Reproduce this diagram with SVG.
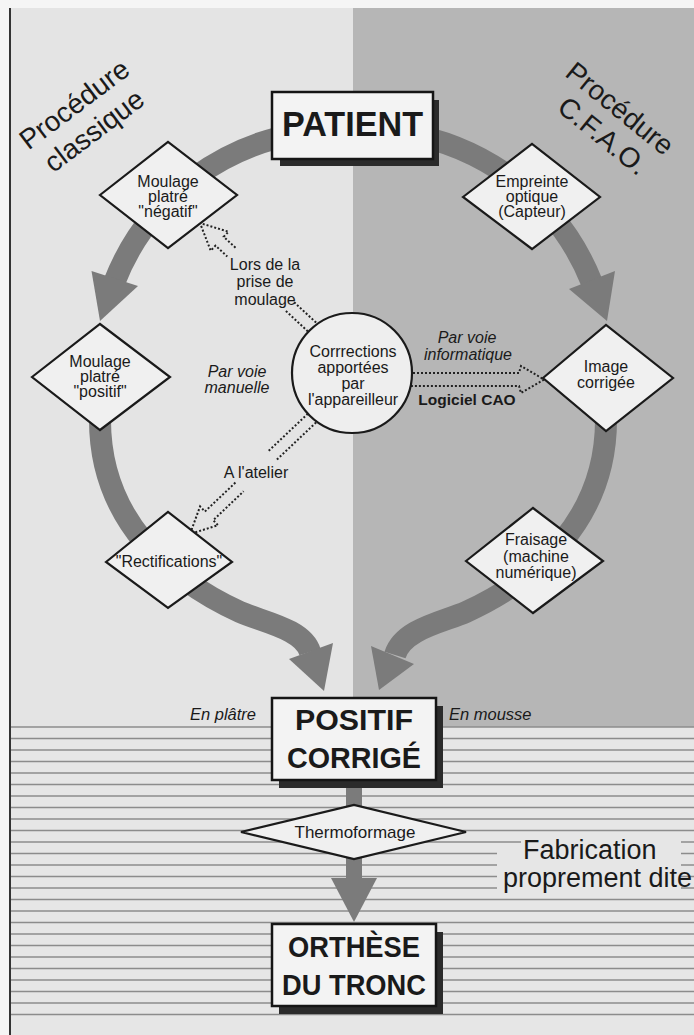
<svg xmlns="http://www.w3.org/2000/svg" width="694" height="1035" viewBox="0 0 694 1035">
<defs>
<style>
text { font-family: "Liberation Sans", Arial, sans-serif; fill: #1a1a1a; }
.lbl { font-size: 16px; text-anchor: middle; }
.it { font-style: italic; }
.b { font-weight: bold; }
.big { font-size: 29px; font-weight: bold; text-anchor: middle; }
.proc { font-size: 28px; text-anchor: middle; }
.box { fill: #f3f3f3; stroke: #151515; stroke-width: 2.5; }
.shadow { fill: #2b2b2b; }
.dia { fill: #f0f0f0; stroke: #1a1a1a; stroke-width: 2.2; }
.band { fill: none; stroke: #7b7b7b; stroke-width: 22; }
.head { fill: #7b7b7b; }
.dot { fill: none; stroke: #222; stroke-width: 2; stroke-dasharray: 2 2; }
.stripe { stroke: #8c8c8c; stroke-width: 1.4; }
</style>
</defs>

<g id="background">
<rect width="694" height="1035" fill="#f5f5f5"/>
<rect x="10" y="8" width="343" height="719" fill="#e4e4e4"/>
<rect x="353" y="8" width="341" height="719" fill="#b6b6b6"/>
<rect x="10" y="727" width="684" height="308" fill="#e6e6e6"/>
<g id="stripes" class="stripe">
<line x1="10" y1="727" x2="694" y2="727"/>
<line x1="10" y1="738.5" x2="694" y2="738.5"/>
<line x1="10" y1="750" x2="694" y2="750"/>
<line x1="10" y1="761.5" x2="694" y2="761.5"/>
<line x1="10" y1="773" x2="694" y2="773"/>
<line x1="10" y1="784.5" x2="694" y2="784.5"/>
<line x1="10" y1="796" x2="694" y2="796"/>
<line x1="10" y1="807.5" x2="694" y2="807.5"/>
<line x1="10" y1="819" x2="694" y2="819"/>
<line x1="10" y1="830.5" x2="694" y2="830.5"/>
<line x1="10" y1="842" x2="694" y2="842"/>
<line x1="10" y1="853.5" x2="694" y2="853.5"/>
<line x1="10" y1="865" x2="694" y2="865"/>
<line x1="10" y1="876.5" x2="694" y2="876.5"/>
<line x1="10" y1="888" x2="694" y2="888"/>
<line x1="10" y1="899.5" x2="694" y2="899.5"/>
<line x1="10" y1="911" x2="694" y2="911"/>
<line x1="10" y1="922.5" x2="694" y2="922.5"/>
<line x1="10" y1="934" x2="694" y2="934"/>
<line x1="10" y1="945.5" x2="694" y2="945.5"/>
<line x1="10" y1="957" x2="694" y2="957"/>
<line x1="10" y1="968.5" x2="694" y2="968.5"/>
<line x1="10" y1="980" x2="694" y2="980"/>
<line x1="10" y1="991.5" x2="694" y2="991.5"/>
<line x1="10" y1="1003" x2="694" y2="1003"/>
<line x1="10" y1="1014.5" x2="694" y2="1014.5"/>
</g>
<path d="M521,837 H681 V895 H497 V849 H521 Z" fill="#e6e6e6"/>
<line x1="10" y1="8" x2="10" y2="1035" stroke="#333" stroke-width="2"/>
</g>

<g id="titles">
<g transform="translate(80,112) rotate(-37)">
<text class="proc" x="0" y="0">Procédure</text>
<text class="proc" x="0" y="33">classique</text>
</g>
<g transform="translate(614,116) rotate(39)">
<text class="proc" x="0" y="0">Procédure</text>
<text class="proc" x="4" y="32">C.F.A.O.</text>
</g>
<text x="523" y="859" style="font-size:27px">Fabrication</text>
<text x="503" y="887" style="font-size:27px">proprement dite</text>
</g>

<g id="connectors">
<path class="band" d="M300,133 C230,145 150,190 114,283"/>
<polygon class="head" points="91.5,271 100,321 138,286"/>
<path class="band" d="M405,133 C475,145 555,190 592,283"/>
<polygon class="head" points="569,289 607,321 615,271"/>
<path class="band" d="M100,420 C100,520 170,580 240,612 C263,622 303,629 310,652"/>
<polygon class="head" points="289,659 324,691 333,643"/>
<path class="band" d="M606,420 C606,520 536,580 466,612 C443,622 403,629 395,655"/>
<polygon class="head" points="371,646 379,690 414,664"/>
<rect x="346" y="784" width="16" height="24" fill="#7b7b7b"/>
<rect x="346" y="855" width="16" height="27" fill="#7b7b7b"/>
<polygon class="head" points="331,878 354,922 377,878"/>
<path class="dot" d="M316.1,322.6 L294.1,302.2 M307.9,331.4 L285.9,311"/>
<path class="dot" d="M235.5,247.7 L223.7,236.8 L228.5,231.7 L200,223 L210.7,250.7 L215.5,245.6 L227.3,256.5"/>
<path class="dot" d="M307.9,413.7 L268,451.5 M316.1,422.4 L276.2,460.2"/>
<path class="dot" d="M235.4,482.6 L204.9,511.5 L200.1,506.4 L190,534 L218,525.2 L213.2,520.2 L243.6,491.3"/>
<path class="dot" d="M413,373 L519,373 L521,366 L544,379.5 L521,393 L519,386 L411,386"/>
</g>

<g id="edge-labels">
<text class="lbl" x="265" y="270">Lors de la</text>
<text class="lbl" x="265" y="287">prise de</text>
<text class="lbl" x="265" y="305">moulage</text>
<text class="lbl it" x="237" y="377">Par voie</text>
<text class="lbl it" x="237" y="393">manuelle</text>
<text class="lbl" x="256" y="478">A l'atelier</text>
<text class="lbl it" x="467" y="343">Par voie</text>
<text class="lbl it" x="468" y="360">informatique</text>
<text class="lbl b" x="467" y="405" style="font-size:15.5px">Logiciel CAO</text>
<text class="it" x="256" y="720" text-anchor="end" style="font-size:16.5px">En plâtre</text>
<text class="it" x="449" y="720" style="font-size:16.5px">En mousse</text>
</g>

<g id="patient">
<rect class="shadow" x="280" y="100" width="159" height="66"/>
<rect class="box" x="272" y="92" width="161" height="67"/>
<text x="352.5" y="136" text-anchor="middle" font-weight="bold" font-size="35" textLength="141" lengthAdjust="spacingAndGlyphs">PATIENT</text>
</g>

<g id="moulage-negatif">
<polygon class="dia" points="100,195 168,142 237,195 168,248"/>
<text class="lbl" x="168" y="187">Moulage</text>
<text class="lbl" x="168" y="202">platré</text>
<text class="lbl" x="168" y="217">"négatif"</text>
</g>

<g id="empreinte">
<polygon class="dia" points="463,197 532,144 600,197 532,249"/>
<text class="lbl" x="532" y="187">Empreinte</text>
<text class="lbl" x="532" y="202">optique</text>
<text class="lbl" x="532" y="217">(Capteur)</text>
</g>

<g id="moulage-positif">
<polygon class="dia" points="32,377 100,324 170,377 100,430"/>
<text class="lbl" x="100" y="367">Moulage</text>
<text class="lbl" x="100" y="382">platré</text>
<text class="lbl" x="100" y="397">"positif"</text>
</g>

<g id="corrections">
<circle cx="352" cy="373" r="60" fill="#eeeeee" stroke="#1a1a1a" stroke-width="2.2"/>
<text class="lbl" x="353" y="357">Corrrections</text>
<text class="lbl" x="353" y="373">apportées</text>
<text class="lbl" x="353" y="389">par</text>
<text class="lbl" x="353" y="405">l'appareilleur</text>
</g>

<g id="image-corrigee">
<polygon class="dia" points="543,378 606,325 673,378 606,431"/>
<text class="lbl" x="606" y="372">Image</text>
<text class="lbl" x="606" y="388">corrigée</text>
</g>

<g id="rectifications">
<polygon class="dia" points="106,562 168,512 232,562 168,608"/>
<text class="lbl" x="169" y="567">"Rectifications"</text>
</g>

<g id="fraisage">
<polygon class="dia" points="466,561 533,508 603,561 533,613"/>
<text class="lbl" x="536" y="545">Fraisage</text>
<text class="lbl" x="536" y="562">(machine</text>
<text class="lbl" x="536" y="578">numérique)</text>
</g>

<g id="positif-corrige">
<rect class="shadow" x="279" y="706" width="164" height="82"/>
<rect class="box" x="272" y="698" width="164" height="82"/>
<text class="big" x="354" y="730" textLength="118" lengthAdjust="spacingAndGlyphs">POSITIF</text>
<text class="big" x="354" y="768" textLength="134" lengthAdjust="spacingAndGlyphs">CORRIGÉ</text>
</g>

<g id="thermoformage">
<polygon class="dia" points="241,832 354,805 466,832 354,859"/>
<text class="lbl" x="355" y="838" style="font-size:17px">Thermoformage</text>
</g>

<g id="orthese">
<rect class="shadow" x="279" y="932" width="164" height="82"/>
<rect class="box" x="272" y="924" width="164" height="82"/>
<text class="big" x="354" y="957" textLength="132" lengthAdjust="spacingAndGlyphs">ORTHÈSE</text>
<text class="big" x="354" y="995" textLength="144" lengthAdjust="spacingAndGlyphs">DU TRONC</text>
</g>
</svg>
